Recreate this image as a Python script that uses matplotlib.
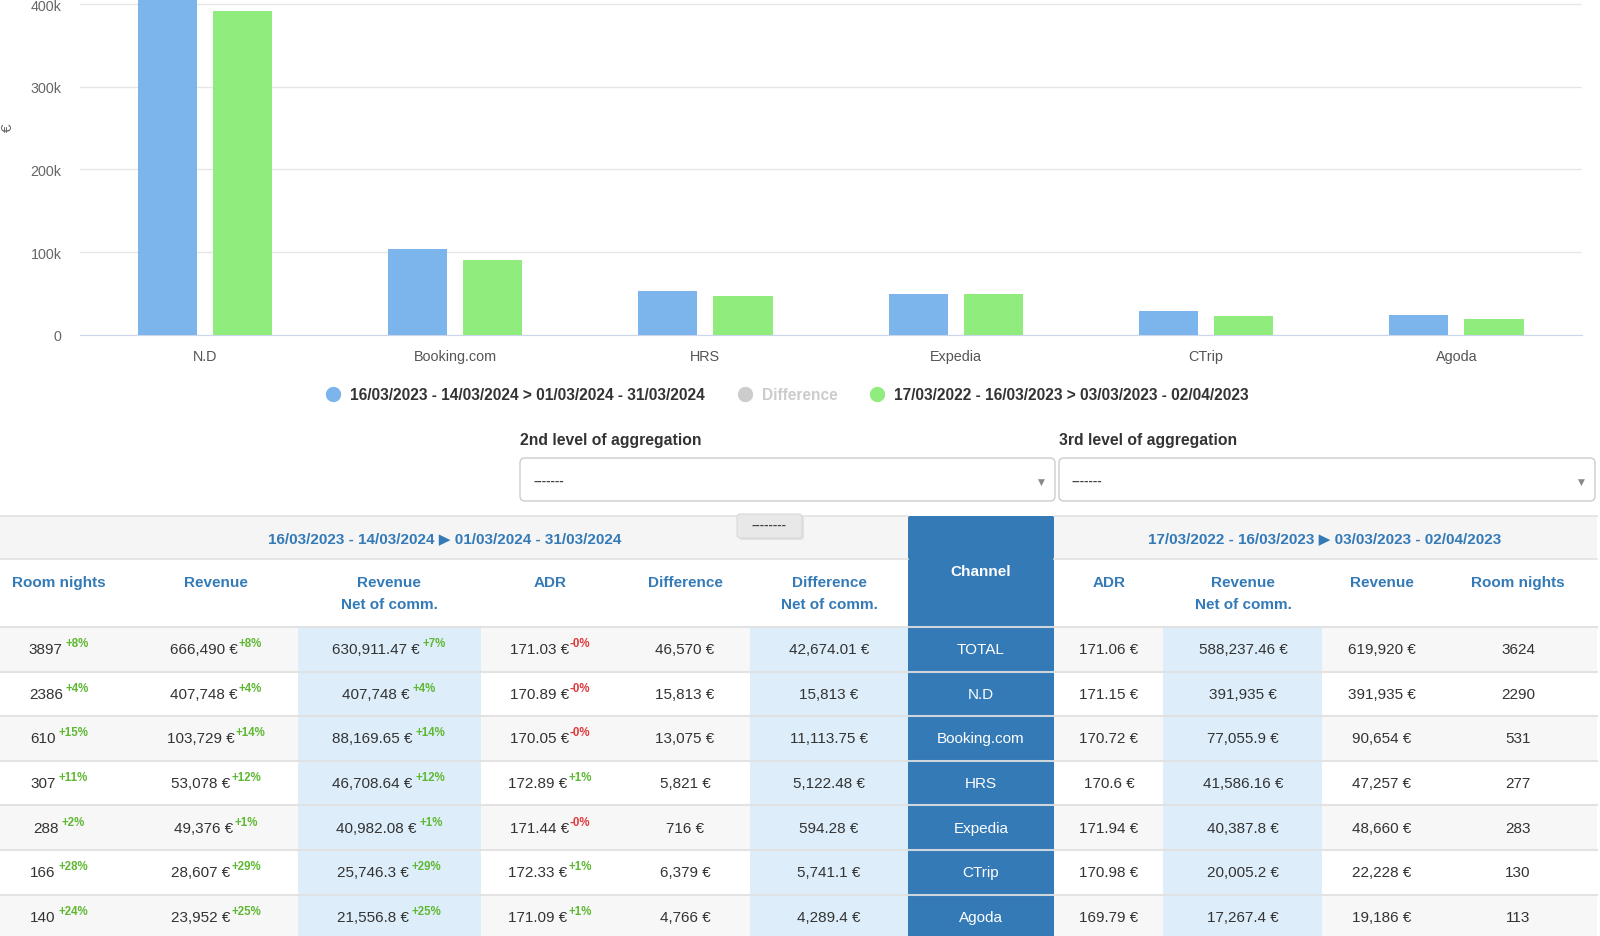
import numpy as np
import matplotlib
matplotlib.use("Agg")
import matplotlib.pyplot as plt
from matplotlib.patches import Rectangle, FancyBboxPatch
from matplotlib.lines import Line2D

plt.rcParams['font.family'] = ['Liberation Sans', 'DejaVu Sans']

# ---- data ----
channels = ["TOTAL", "N.D", "Booking.com", "HRS", "Expedia", "CTrip", "Agoda"]

period_cur = "16/03/2023 - 14/03/2024 > 01/03/2024 - 31/03/2024"
period_prev = "17/03/2022 - 16/03/2023 > 03/03/2023 - 02/04/2023"

# current period (left half of the table)
room_nights_cur = [3897, 2386, 610, 307, 288, 166, 140]
room_nights_pct = ["+8%", "+4%", "+15%", "+11%", "+2%", "+28%", "+24%"]
revenue_cur = [666490, 407748, 103729, 53078, 49376, 28607, 23952]
revenue_pct = ["+8%", "+4%", "+14%", "+12%", "+1%", "+29%", "+25%"]
revenue_net_cur = [630911.47, 407748, 88169.65, 46708.64, 40982.08, 25746.3, 21556.8]
revenue_net_pct = ["+7%", "+4%", "+14%", "+12%", "+1%", "+29%", "+25%"]
adr_cur = [171.03, 170.89, 170.05, 172.89, 171.44, 172.33, 171.09]
adr_pct = ["-0%", "-0%", "-0%", "+1%", "-0%", "+1%", "+1%"]
difference = [46570, 15813, 13075, 5821, 716, 6379, 4766]
difference_net = [42674.01, 15813, 11113.75, 5122.48, 594.28, 5741.1, 4289.4]

# previous period (right half of the table)
adr_prev = [171.06, 171.15, 170.72, 170.6, 171.94, 170.98, 169.79]
revenue_net_prev = [588237.46, 391935, 77055.9, 41586.16, 40387.8, 20005.2, 17267.4]
revenue_prev = [619920, 391935, 90654, 47257, 48660, 22228, 19186]
room_nights_prev = [3624, 2290, 531, 277, 283, 130, 113]

y_ticks = [0, 100000, 200000, 300000, 400000]
y_tick_labels = ["0", "100k", "200k", "300k", "400k"]

# ---- styling ----
BLUE = '#7cb5ec'
GREEN = '#90ed7d'
HEAD_BLUE = '#337ab7'
TXT = '#333333'
POS = '#5fb832'
NEG = '#e0393e'
LIGHT_BLUE = '#ddeefa'
ROW_GRAY = '#f7f7f7'

W, H = 1600, 937
fig = plt.figure(figsize=(W / 100, H / 100), dpi=100)

# ---- bar chart ----
ax_left, ax_right, ax_bottom = 79.6, 1581.6, 335.7
ax = fig.add_axes([ax_left / W, 1 - ax_bottom / H, (ax_right - ax_left) / W, ax_bottom / H])
x = np.arange(len(channels) - 1)
ax.bar(x - 0.15, revenue_cur[1:], width=0.236, color=BLUE, zorder=3)
ax.bar(x + 0.15, revenue_prev[1:], width=0.236, color=GREEN, zorder=3)
ax.set_xlim(-0.5, len(x) - 0.5)
ax.set_ylim(0, 406200)
ax.set_xticks(x)
ax.set_xticklabels(channels[1:])
ax.set_yticks(y_ticks)
ax.set_yticklabels(y_tick_labels)
ax.yaxis.grid(True, color='#e6e6e6', lw=1)
ax.set_axisbelow(True)
for s in ['top', 'left', 'right']:
    ax.spines[s].set_visible(False)
ax.spines['bottom'].set_color('#ccd6eb')
ax.tick_params(axis='y', length=0, pad=13, labelsize=10.3, labelcolor='#666666')
ax.tick_params(axis='x', length=0, pad=10, labelsize=10.4, labelcolor='#555555')
fig.text(8 / W, 1 - 128 / H, "€", rotation=90, ha='center', va='center',
         color='#666666', fontsize=11)

handles = [Line2D([], [], ls='none', marker='o', ms=10, color=c)
           for c in (BLUE, '#cccccc', GREEN)]
leg = ax.legend(handles, [period_cur, "Difference", period_prev], loc='center',
                bbox_to_anchor=(787 / W, 1 - 396 / H), bbox_transform=fig.transFigure,
                ncol=3, frameon=False, handlelength=1, handletextpad=0.59,
                columnspacing=2.05, prop={'weight': 'bold', 'size': 11.2})
for t, c in zip(leg.get_texts(), [TXT, '#cccccc', TXT]):
    t.set_color(c)

# ---- overlay in pixel coordinates for the controls and table ----
ov = fig.add_axes([0, 0, 1, 1])
ov.set_xlim(0, W)
ov.set_ylim(H, 0)
ov.axis('off')

renderer = fig.canvas.get_renderer()


def text_width(s, **kw):
    t = ov.text(0, 0, s, **kw)
    w = t.get_window_extent(renderer).width
    t.remove()
    return w


def fmt(v):
    return f"{v:,.2f}".rstrip('0').rstrip('.')


# aggregation selectors
for bx, bw, lab in [(520, 535, "2nd level of aggregation"), (1059, 536, "3rd level of aggregation")]:
    ov.text(bx, 441, lab, ha='left', va='center', fontsize=11.3, weight='bold', color=TXT)
    ov.add_patch(FancyBboxPatch((bx, 459), bw, 43, boxstyle="round,pad=0,rounding_size=5",
                                fc='white', ec='#cccccc', lw=1))
    ov.text(bx + 13, 482, "-------", ha='left', va='center', fontsize=9.5,
            weight='bold', color='#444444')
    ov.text(bx + bw - 14, 482, "▼", ha='center', va='center', fontsize=6.5,
            color='#888888', family='DejaVu Sans')

# table geometry
col_edges = [0, 120, 298, 481, 612, 750, 908, 1054, 1163, 1322, 1440, 1597]
col_centers = [59, 216, 389, 550, 685, 829, 981, 1109, 1243, 1382, 1518]
t_top, h1_bot, h2_bot, row_h = 517, 560, 628, 44.6

ov.add_patch(Rectangle((0, t_top), col_edges[-1], h1_bot - t_top, fc='#f5f5f5', ec='none'))
for i in range(len(channels)):
    y0 = h2_bot + i * row_h
    ov.add_patch(Rectangle((0, y0), col_edges[-1], row_h,
                           fc=ROW_GRAY if i % 2 == 0 else 'white', ec='none'))
for c in (2, 5, 8):
    ov.add_patch(Rectangle((col_edges[c], h2_bot), col_edges[c + 1] - col_edges[c],
                           H - h2_bot, fc=LIGHT_BLUE, ec='none'))
ov.add_patch(Rectangle((col_edges[6], t_top), col_edges[7] - col_edges[6], H - t_top,
                       fc=HEAD_BLUE, ec='none', zorder=2))

for yl in [t_top, h1_bot]:
    ov.plot([0, col_edges[6]], [yl, yl], color='#e2e2e2', lw=1.2)
    ov.plot([col_edges[7], col_edges[-1]], [yl, yl], color='#e2e2e2', lw=1.2)
for i in range(len(channels)):
    yl = h2_bot + i * row_h
    ov.plot([0, col_edges[-1]], [yl, yl], color='#e0e0e0', lw=1.5, zorder=3, alpha=0.9)

# header texts
hdr_kw = dict(ha='center', va='center', fontsize=11, weight='bold', color=HEAD_BLUE)
ov.text(445, 539, period_cur.replace('>', '▶'), **hdr_kw)
ov.text(1325, 539, period_prev.replace('>', '▶'), **hdr_kw)
headers = ["Room nights", "Revenue", "Revenue\nNet of comm.", "ADR", "Difference",
           "Difference\nNet of comm.", None, "ADR", "Revenue\nNet of comm.", "Revenue",
           "Room nights"]
for cx, hd in zip(col_centers, headers):
    if hd is None:
        continue
    lines = hd.split('\n')
    for k, ln in enumerate(lines):
        ov.text(cx, 583 + 22 * k, ln, **hdr_kw)
ov.text(col_centers[6], 572, "Channel", ha='center', va='center', fontsize=11,
        weight='bold', color='white', zorder=4)

# "-------" toggle button
ov.add_patch(FancyBboxPatch((739, 517), 65, 24, boxstyle="round,pad=0,rounding_size=3",
                            fc='#cfcfcf', ec='none', alpha=0.5, zorder=4))
ov.add_patch(FancyBboxPatch((737, 515), 65, 24, boxstyle="round,pad=0,rounding_size=3",
                            fc='#e8e8e8', ec='#d9d9d9', lw=0.8, zorder=5))
ov.text(769.5, 526, "--------", ha='center', va='center', fontsize=9.5, weight='bold',
        color='#444444', zorder=6)

FS = 11
SUP = 8.3


def value_sup(cx, cy, main, sup, gap):
    w1 = text_width(main, fontsize=FS)
    w2 = text_width(sup, fontsize=SUP, weight='bold')
    x0 = cx - (w1 + gap + w2) / 2
    ov.text(x0, cy, main, ha='left', va='center', fontsize=FS, color=TXT, zorder=4)
    ov.text(x0 + w1 + gap, cy - 6, sup, ha='left', va='center', fontsize=SUP,
            weight='bold', color=NEG if sup.startswith('-') else POS, zorder=4)


for i, ch in enumerate(channels):
    cy = h2_bot + i * row_h + row_h / 2
    value_sup(col_centers[0], cy, str(room_nights_cur[i]), room_nights_pct[i], 3)
    value_sup(col_centers[1], cy, fmt(revenue_cur[i]) + " €", revenue_pct[i], 1)
    value_sup(col_centers[2], cy, fmt(revenue_net_cur[i]) + " €", revenue_net_pct[i], 3)
    value_sup(col_centers[3], cy, fmt(adr_cur[i]) + " €", adr_pct[i], 1)
    plain = [(4, fmt(difference[i]) + " €"), (5, fmt(difference_net[i]) + " €"),
             (7, fmt(adr_prev[i]) + " €"), (8, fmt(revenue_net_prev[i]) + " €"),
             (9, fmt(revenue_prev[i]) + " €"), (10, str(room_nights_prev[i]))]
    for c, s in plain:
        ov.text(col_centers[c], cy, s, ha='center', va='center', fontsize=FS, color=TXT, zorder=4)
    ov.text(col_centers[6], cy, ch, ha='center', va='center', fontsize=FS, color='white', zorder=4)

fig.savefig("out.png", dpi=100)
